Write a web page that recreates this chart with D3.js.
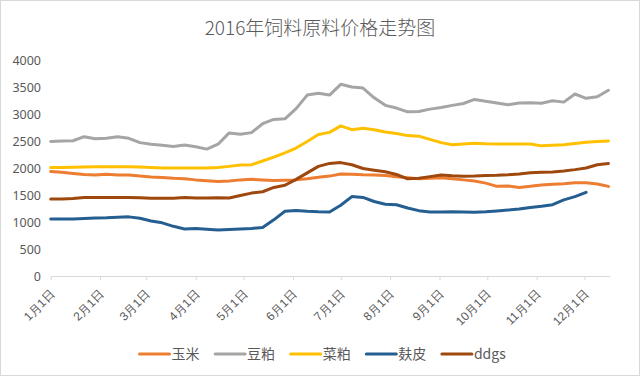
<!DOCTYPE html>
<html><head><meta charset="utf-8">
<script src="https://cdn.jsdelivr.net/npm/d3@7"></script>
<style>
html,body{margin:0;padding:0;background:#fff;}
svg{display:block;font-family:"Noto Sans CJK SC","Noto Sans",sans-serif;}
</style></head>
<body>
<svg id="c" width="640" height="376"></svg>
<script>
const title = "2016年饲料原料价格走势图";
const dates = ["2016-01-01","2016-01-08","2016-01-15","2016-01-22","2016-01-29","2016-02-05","2016-02-12","2016-02-19","2016-02-26","2016-03-04","2016-03-11","2016-03-18","2016-03-25","2016-04-01","2016-04-08","2016-04-15","2016-04-22","2016-04-29","2016-05-06","2016-05-13","2016-05-20","2016-05-27","2016-06-03","2016-06-10","2016-06-17","2016-06-24","2016-07-01","2016-07-08","2016-07-15","2016-07-22","2016-07-29","2016-08-05","2016-08-12","2016-08-19","2016-08-26","2016-09-02","2016-09-09","2016-09-16","2016-09-23","2016-09-30","2016-10-07","2016-10-14","2016-10-21","2016-10-28","2016-11-04","2016-11-11","2016-11-18","2016-11-25","2016-12-02","2016-12-09","2016-12-16"];
const seriesNames = ["玉米","豆粕","菜粕","麸皮","ddgs"];
const corn = [1935,1920,1900,1880,1870,1885,1870,1870,1850,1835,1825,1810,1800,1780,1765,1750,1760,1780,1790,1780,1770,1775,1780,1800,1830,1850,1890,1885,1875,1870,1860,1840,1820,1800,1810,1820,1800,1780,1760,1720,1660,1665,1640,1660,1685,1700,1710,1725,1725,1705,1660];
const soymeal = [2490,2500,2505,2580,2540,2550,2580,2550,2470,2440,2420,2400,2425,2395,2350,2440,2650,2625,2655,2820,2900,2910,3100,3350,3385,3350,3550,3500,3480,3300,3160,3110,3040,3045,3090,3120,3160,3195,3270,3235,3205,3170,3205,3210,3200,3245,3220,3370,3290,3320,3440];
const rapemeal = [2010,2010,2015,2020,2025,2025,2025,2025,2020,2010,2000,2000,2000,2000,2000,2010,2030,2055,2060,2130,2200,2280,2370,2490,2620,2660,2780,2710,2735,2710,2665,2640,2600,2590,2530,2470,2430,2445,2460,2450,2445,2445,2445,2445,2410,2420,2430,2455,2475,2490,2500];
const bran = [1055,1055,1055,1065,1075,1080,1090,1095,1070,1020,985,920,870,880,865,850,860,870,880,900,1040,1200,1215,1200,1190,1185,1310,1470,1455,1380,1330,1320,1260,1210,1185,1185,1190,1185,1180,1190,1205,1220,1240,1270,1290,1320,1410,1470,1550];
const ddgs = [1425,1425,1435,1455,1455,1455,1455,1455,1450,1440,1440,1440,1455,1445,1445,1450,1445,1490,1535,1560,1640,1680,1790,1910,2030,2085,2100,2060,1990,1960,1930,1880,1800,1810,1840,1870,1855,1845,1850,1860,1865,1875,1890,1910,1920,1925,1945,1970,2000,2060,2085];
const colors = ["#ED7D31","#A5A5A5","#FFC000","#255E91","#9E480E"];
const yTicks = [0,500,1000,1500,2000,2500,3000,3500,4000];
const xTickLabels = ["1月1日","2月1日","3月1日","4月1日","5月1日","6月1日","7月1日","8月1日","9月1日","10月1日","11月1日","12月1日"];
const xTickDates = ["2016-01-01","2016-02-01","2016-03-01","2016-04-01","2016-05-01","2016-06-01","2016-07-01","2016-08-01","2016-09-01","2016-10-01","2016-11-01","2016-12-01"];

const parse = d3.timeParse("%Y-%m-%d");
const svg = d3.select("#c");
const txt = "#595959";

svg.append("rect").attr("x",0.5).attr("y",0.5).attr("width",639).attr("height",375)
  .attr("fill","#fff").attr("stroke","#d9d9d9");

svg.append("text").attr("x",320).attr("y",35).attr("text-anchor","middle")
  .attr("font-size",19).attr("font-weight",300).attr("fill",txt).text(title);

const x = d3.scaleTime().domain([parse("2016-01-01"), parse("2016-12-17")]).range([50.7, 610]);
const y = d3.scaleLinear().domain([0,4000]).range([276,60]);

// y axis labels
const ya = svg.append("g").attr("transform","translate(41,0)")
  .call(d3.axisLeft(y).tickValues(yTicks).tickSize(0).tickPadding(0).tickFormat(d3.format("d")));
ya.select(".domain").remove();
ya.selectAll("text").attr("fill",txt).attr("font-size",12.5).attr("font-family","'Noto Sans','Noto Sans CJK SC',sans-serif");

// x axis
const xa = svg.append("g").attr("transform","translate(0,276)")
  .call(d3.axisBottom(x).tickValues(xTickDates.map(parse)).tickSizeInner(4).tickSizeOuter(0).tickFormat((d,i)=>xTickLabels[i]));
xa.select(".domain").attr("stroke","#d9d9d9").attr("stroke-width",1);
xa.selectAll(".tick line").attr("stroke","#d9d9d9");
xa.selectAll(".tick text").attr("fill",txt).attr("font-size",12)
  .attr("text-anchor","end").attr("dy",null).attr("y",null)
  .attr("transform","translate(4,19) rotate(-45)");

// lines
const allSeries = [corn, soymeal, rapemeal, bran, ddgs];
const line = d3.line().x((d,i)=>x(parse(dates[i]))).y(d=>y(d));
allSeries.forEach((s,k)=>{
  svg.append("path").datum(s).attr("d",line).attr("fill","none")
    .attr("stroke",colors[k]).attr("stroke-width",3).attr("stroke-linejoin","round").attr("stroke-linecap","round");
});

// legend
const lg = svg.append("g");
seriesNames.forEach((n,k)=>{
  const lx = 139.5 + k*75.6;
  lg.append("line").attr("x1",lx).attr("x2",lx+30).attr("y1",354).attr("y2",354)
    .attr("stroke",colors[k]).attr("stroke-width",3).attr("stroke-linecap","round");
  lg.append("text").attr("x",lx+32).attr("y",354).attr("dy","0.36em")
    .attr("font-size",14).attr("fill",txt).text(n);
});
</script>
</body></html>
